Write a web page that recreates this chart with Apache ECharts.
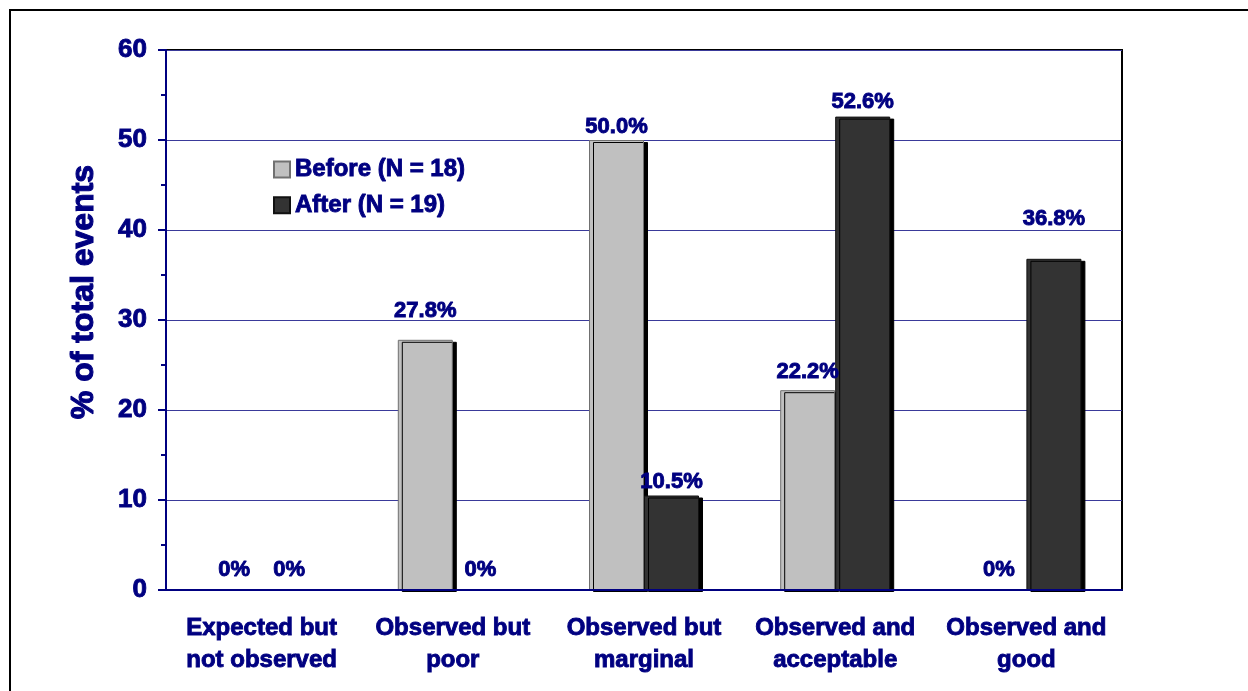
<!DOCTYPE html>
<html>
<head>
<meta charset="utf-8">
<script src="https://cdn.jsdelivr.net/npm/echarts@6/dist/echarts.min.js"></script>
<style>html,body{margin:0;padding:0;background:#fff;}#c{width:1248px;height:691px;}</style>
</head>
<body>
<div id="c"></div>
<script>
const categories = ['Expected but\nnot observed', 'Observed but\npoor', 'Observed but\nmarginal', 'Observed and\nacceptable', 'Observed and\ngood'];
const beforeValues = [0, 27.8, 50.0, 22.2, 0];
const afterValues = [0, 0, 10.5, 52.6, 36.8];
const seriesNames = ['Before (N = 18)', 'After (N = 19)'];
const yTicks = [0, 10, 20, 30, 40, 50, 60];
// label gaps above bars (pixels), as placed in the original
const beforeLabelGap = [9, 18, 2, 7, 9];
const afterLabelGap = [9, 9, 3, 4, 29];

const NAVY = '#000080';
const FONT = '"Liberation Sans", Arial, sans-serif';
const HEAVY = {color: NAVY, fontFamily: FONT, fontWeight: 'bold', textBorderColor: NAVY, textBorderWidth: 0.9};
const fmt = p => p.value === 0 ? '0%' : p.value.toFixed(1) + '%';
const item = (v, gap) => {
  const o = {value: v, label: {distance: gap}};
  if (v === 0) o.itemStyle = {color: 'transparent', borderWidth: 0, shadowColor: 'transparent'};
  return o;
};

const chart = echarts.init(document.getElementById('c'), null, {renderer: 'canvas'});
const labelStyle = Object.assign({show: true, position: 'top', distance: 4, formatter: fmt, fontSize: 22}, HEAVY);
chart.setOption({
  animation: false,
  backgroundColor: '#fff',
  graphic: [{
    type: 'rect', shape: {x: 10, y: 10, width: 1400, height: 900},
    style: {fill: 'none', stroke: '#000', lineWidth: 2}, silent: true, z: -1
  }],
  grid: {left: 166, right: 126, top: 50, bottom: 101, show: true, borderColor: '#000', borderWidth: 2, backgroundColor: 'transparent'},
  legend: {
    left: 268, top: 152, orient: 'vertical', itemWidth: 16, itemHeight: 16, itemGap: 11,
    icon: 'rect',
    textStyle: Object.assign({fontSize: 24}, HEAVY),
    data: seriesNames
  },
  xAxis: {
    type: 'category', data: categories, z: 5,
    axisLine: {lineStyle: {color: NAVY, width: 2}},
    axisTick: {show: false},
    axisLabel: Object.assign({fontSize: 24, lineHeight: 32, margin: 22, interval: 0}, HEAVY)
  },
  yAxis: {
    type: 'value', min: yTicks[0], max: yTicks[yTicks.length - 1], interval: 10,
    name: '% of total events', nameLocation: 'middle', nameGap: 66, nameRotate: 90,
    nameTextStyle: Object.assign({fontSize: 32, padding: [0, 0, 0, 56]}, HEAVY, {textBorderWidth: 1.1}),
    axisLine: {show: true, lineStyle: {color: NAVY, width: 2}},
    axisTick: {show: true, inside: false, length: 8, lineStyle: {color: NAVY, width: 2}},
    minorTick: {show: true, splitNumber: 2, length: 5, lineStyle: {color: NAVY, width: 2}},
    splitLine: {show: true, lineStyle: {color: '#3a3a9a', width: 1}},
    axisLabel: Object.assign({fontSize: 26, margin: 19}, HEAVY)
  },
  series: [
    {
      name: seriesNames[0], type: 'bar', data: beforeValues.map((v, i) => item(v, beforeLabelGap[i])), barWidth: 55, barGap: '0%',
      itemStyle: {color: '#c0c0c0', borderColor: '#707070', borderWidth: 1, shadowColor: '#000', shadowBlur: 0, shadowOffsetX: 4, shadowOffsetY: 2},
      label: labelStyle
    },
    {
      name: seriesNames[1], type: 'bar', data: afterValues.map((v, i) => item(v, afterLabelGap[i])), barWidth: 55,
      itemStyle: {color: '#333333', borderColor: '#111', borderWidth: 1, shadowColor: '#000', shadowBlur: 0, shadowOffsetX: 4, shadowOffsetY: 2},
      label: labelStyle
    }
  ]
});
</script>
</body>
</html>
